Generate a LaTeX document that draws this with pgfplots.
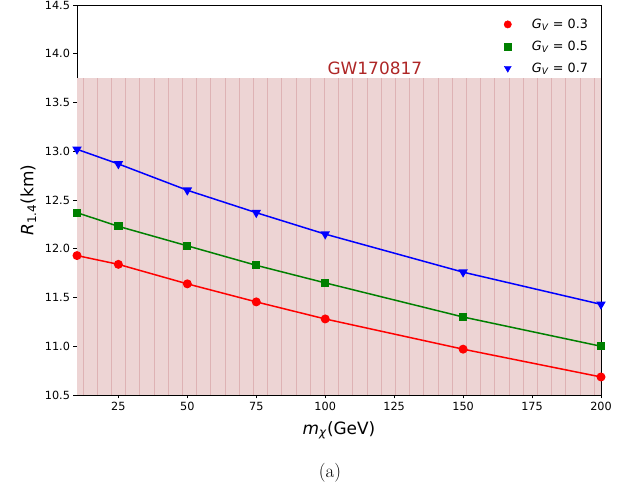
\documentclass[border=0pt]{standalone}
\usepackage{fontspec}
\setsansfont{DejaVu Sans}
\usepackage{pgfplots}
\pgfplotsset{compat=1.18}

\definecolor{gwbrown}{RGB}{165,42,42}
\definecolor{gwfill}{RGB}{237,212,212}
\definecolor{gwhatch}{RGB}{222,178,180}
\definecolor{mplgreen}{RGB}{0,128,0}

\pgfplotstableread{
m    r03    r05    r07
10   11.93  12.37  13.02
25   11.84  12.23  12.87
50   11.64  12.03  12.60
75   11.455 11.83  12.37
100  11.28  11.65  12.15
150  10.97  11.30  11.76
200  10.685 11.00  11.43
}\radii

\begin{document}
\begin{tikzpicture}[font=\sffamily]
\path[use as bounding box] (-77bp,-99bp) rectangle (556bp,395bp);
\begin{axis}[
    scale only axis,
    width=524bp, height=390bp,
    xmin=10, xmax=200,
    ymin=10.5, ymax=14.5,
    xtick={25,50,...,200},
    ytick={10.5,11,...,14.5},
    yticklabel style={/pgf/number format/.cd, fixed, fixed zerofill, precision=1},
    /pgf/number format/assume math mode=true,
    tick label style={font=\sffamily\fontsize{11.3}{13}\selectfont},
    tick align=outside,
    xtick pos=lower, ytick pos=left,
    major tick length=3.5bp,
    every tick/.style={black, line width=0.8bp},
    axis line style={line width=0.8bp},
    xlabel={\textit{m}\textsubscript{\textit{χ}}(GeV)},
    ylabel={\textit{R}\textsubscript{1.4}(km)},
    label style={font=\sffamily\fontsize{17}{20}\selectfont},
    xlabel style={yshift=-4bp},
    ylabel style={yshift=2bp},
    legend style={draw=none, fill=none, at={(0.985,0.975)}, anchor=north east,
        font=\sffamily\fontsize{12.8}{15}\selectfont, row sep=7bp},
    legend image code/.code={\path[draw=none, fill=none] (0cm,0cm) -- (1.03cm,0cm);
        \draw[#1] plot coordinates {(0.25cm,0cm)};},
    legend cell align=left,
]
\addplot[draw=none, fill=gwfill, forget plot] coordinates {(10,10.5) (10,13.75) (200,13.75) (200,10.5)} -- cycle;
\pgfplotsinvokeforeach{0,...,36}{
    \draw[gwhatch, line width=1bp] (axis cs:{12.2+5.15*#1},10.5) -- (axis cs:{12.2+5.15*#1},13.75);
}
\node[anchor=south, inner sep=0pt, text=gwbrown!90!red, font=\sffamily\fontsize{17}{20}\selectfont]
    at (axis cs:118,13.78) {GW170817};

\addplot[red, line width=1.5bp, mark=*, mark size=3.7bp, forget plot] table[x=m, y=r03] {\radii};
\addplot[mplgreen, line width=1.5bp, mark=square*, mark size=3.4bp, forget plot] table[x=m, y=r05] {\radii};
\addplot[blue, line width=1.5bp, mark=triangle*, mark size=4bp, mark options={rotate=180}, forget plot] table[x=m, y=r07] {\radii};

\addlegendimage{only marks, mark=*, red, mark size=3.7bp}
\addlegendentry{\textit{G}\textsubscript{\textit{V}} = 0.3}
\addlegendimage{only marks, mark=square*, mplgreen, mark size=3.4bp}
\addlegendentry{\textit{G}\textsubscript{\textit{V}} = 0.5}
\addlegendimage{only marks, mark=triangle*, blue, mark size=4bp, mark options={rotate=180}}
\addlegendentry{\textit{G}\textsubscript{\textit{V}} = 0.7}
\end{axis}
\node[font=\rmfamily\fontsize{19}{22}\selectfont] at (253bp,-78bp) {(a)};
\end{tikzpicture}
\end{document}
